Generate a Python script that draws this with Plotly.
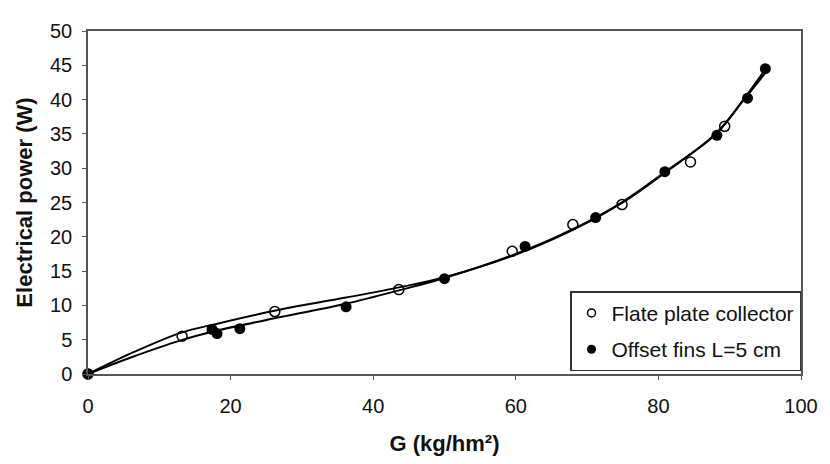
import plotly.graph_objects as go

# Measured data points
flat_x = [0, 13.2, 26.2, 43.6, 59.5, 68.0, 74.9, 84.5, 89.3]
flat_y = [0, 5.5, 9.1, 12.3, 17.9, 21.8, 24.7, 30.9, 36.1]

fins_x = [0, 17.4, 18.1, 21.3, 36.2, 50.0, 61.3, 71.2, 80.9, 88.2, 92.5, 95.0]
fins_y = [0, 6.5, 5.9, 6.6, 9.8, 13.9, 18.6, 22.8, 29.5, 34.8, 40.2, 44.5]

# Trend curves
curve_x = [0, 6, 13, 18, 27, 36, 44, 50, 60, 68, 75, 81, 88, 92, 95]
curve_flat_y = [0, 3.0, 6.0, 7.3, 9.4, 11.1, 12.7, 14.1, 17.4, 21.0, 25.0, 29.4, 35.0, 40.0, 43.9]
curve_fins_y = [0, 2.4, 4.9, 6.3, 8.3, 10.2, 12.3, 14.0, 17.5, 21.1, 25.1, 29.5, 34.9, 40.1, 44.4]

x_ticks = [0, 20, 40, 60, 80, 100]
y_ticks = [0, 5, 10, 15, 20, 25, 30, 35, 40, 45, 50]

FONT = "Liberation Sans, Arial, sans-serif"

fig = go.Figure()
fig.add_trace(go.Scatter(x=curve_x, y=curve_flat_y, mode="lines", line=dict(color="black", width=2, shape="spline"),
                         showlegend=False, hoverinfo="skip"))
fig.add_trace(go.Scatter(x=curve_x, y=curve_fins_y, mode="lines", line=dict(color="black", width=2, shape="spline"),
                         showlegend=False, hoverinfo="skip"))
fig.add_trace(go.Scatter(x=flat_x, y=flat_y, mode="markers", showlegend=False, cliponaxis=False,
                         marker=dict(symbol="circle-open", size=10, color="black", line=dict(width=1.5))))
fig.add_trace(go.Scatter(x=fins_x, y=fins_y, mode="markers", showlegend=False, cliponaxis=False,
                         marker=dict(symbol="circle", size=11, color="black")))
# legend entries (smaller symbols as in the reference legend)
fig.add_trace(go.Scatter(x=[None], y=[None], mode="markers", name="Flate plate collector", legendgroup="a",
                         marker=dict(symbol="circle-open", size=8, color="black", line=dict(width=1.5))))
fig.add_trace(go.Scatter(x=[None], y=[None], mode="markers", name="Offset fins L=5 cm", legendgroup="b",
                         marker=dict(symbol="circle", size=9, color="black")))

axis_common = dict(showgrid=False, zeroline=False, showline=True, linecolor="#555", linewidth=1.5,
                   mirror=True, ticks="outside", ticklen=4, tickcolor="#555",
                   tickfont=dict(family=FONT, size=20, color="#111"))

fig.update_xaxes(range=[0, 100], tickvals=x_ticks, ticktext=[str(v) for v in x_ticks], ticklabelstandoff=9,
                 title=dict(text="<b>G (kg/hm²)</b>", font=dict(family=FONT, size=22, color="#111"), standoff=20),
                 **axis_common)
fig.update_yaxes(range=[0, 50], tickvals=y_ticks, ticktext=[str(v) for v in y_ticks], ticklabelstandoff=6,
                 title=dict(text="<b>Electrical power (W)</b>", font=dict(family=FONT, size=22, color="#111"), standoff=11),
                 **axis_common)

# the page body adds an 8px offset, so the figure is 8px smaller and margins shifted
fig.update_layout(
    width=822, height=456,
    margin=dict(l=80, r=22, t=12, b=79),
    plot_bgcolor="white", paper_bgcolor="white",
    legend=dict(x=1, xanchor="right", y=0.008, yanchor="bottom", bordercolor="#333", borderwidth=1.5,
                bgcolor="white", font=dict(family=FONT, size=21, color="#111"),
                tracegroupgap=6, itemsizing="trace", itemwidth=30),
)

fig.write_html("out.html")
